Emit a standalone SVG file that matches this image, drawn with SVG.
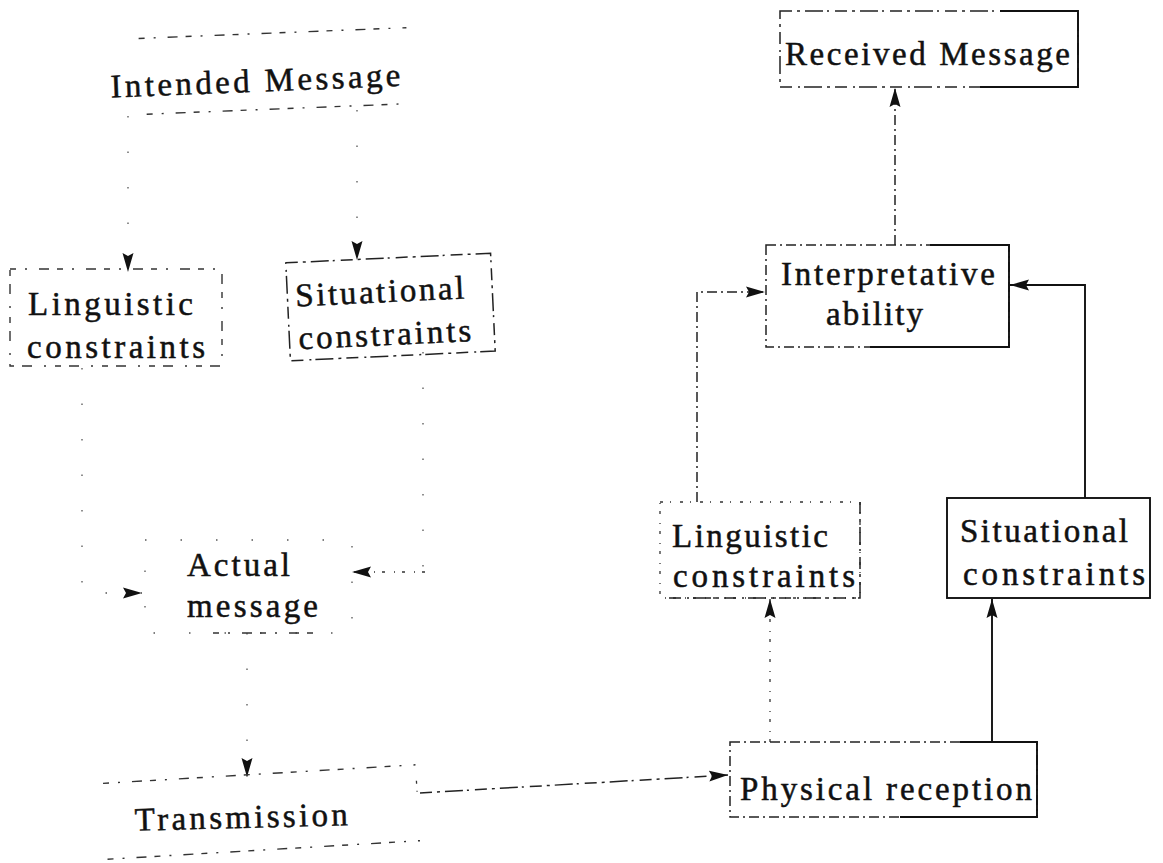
<svg xmlns="http://www.w3.org/2000/svg" width="1163" height="863" viewBox="0 0 1163 863">
<style>
  text { font-family: "Liberation Serif", "Times New Roman", serif; font-size: 33px; fill: #111; stroke: #111; stroke-width: 0.5; }
  .dash { fill: none; stroke: #222; stroke-width: 1.5; stroke-dasharray: 12 5 3 5 18 4 2 6; }
  .dashdot { fill: none; stroke: #222; stroke-width: 1.5; stroke-dasharray: 10 4 2 4; }
  .faint { fill: none; stroke: #333; stroke-width: 1.4; stroke-dasharray: 6 9 2 12 10 8; }
  .sparse { fill: none; stroke: #555; stroke-width: 1.3; stroke-dasharray: 1.5 34; }
  .dotted { fill: none; stroke: #333; stroke-width: 1.3; stroke-dasharray: 3 7 1 9; }
  .solid { fill: none; stroke: #111; stroke-width: 1.9; }
</style>
<defs>
  <marker id="ah" markerUnits="userSpaceOnUse" markerWidth="20" markerHeight="14" refX="19" refY="7" orient="auto">
    <path d="M0,1.5 L19,7 L0,12.5 L3,7 z" fill="#111"/>
  </marker>
</defs>
<rect x="0" y="0" width="1163" height="863" fill="#fff"/>

<g id="connectors">
  <path class="sparse" d="M128 116 V272" marker-end="url(#ah)"/>
  <path class="sparse" d="M357 110 V260" marker-end="url(#ah)"/>
  <path class="sparse" d="M82 368 V593 H142" marker-end="url(#ah)"/>
  <path class="sparse" d="M423 352 V572 H400"/>
  <path class="dotted" d="M425 572 H352" marker-end="url(#ah)"/>
  <path class="sparse" d="M247 633 V777" marker-end="url(#ah)"/>
  <path class="dash" d="M420 793 L728 775" marker-end="url(#ah)"/>
  <path class="dotted" d="M770 742 V599" marker-end="url(#ah)"/>
  <path class="solid" d="M992 742 V599" marker-end="url(#ah)"/>
  <path class="dashdot" d="M697 502 V292 H765" marker-end="url(#ah)"/>
  <path class="solid" d="M1085 498 V285 H1010" marker-end="url(#ah)"/>
  <path class="dashdot" d="M895 245 V88" marker-end="url(#ah)"/>
</g>

<g id="intended-message" transform="rotate(-2.3 275 70)">
  <line class="faint" x1="140" y1="33" x2="408" y2="33"/>
  <line class="faint" x1="145" y1="109" x2="408" y2="109"/>
  <text x="110" y="91" textLength="290" lengthAdjust="spacing">Intended Message</text>
</g>

<g id="linguistic-constraints-left">
  <rect class="faint" x="10" y="269" width="212" height="97"/>
  <text x="28" y="315" textLength="165" lengthAdjust="spacing">Linguistic</text>
  <text x="27" y="358" textLength="178" lengthAdjust="spacing">constraints</text>
</g>

<g id="situational-constraints-left" transform="rotate(-2.7 390 307)">
  <rect class="dash" x="288" y="258" width="205" height="98"/>
  <text x="296" y="302" textLength="169" lengthAdjust="spacing">Situational</text>
  <text x="297" y="345" textLength="173" lengthAdjust="spacing">constraints</text>
</g>

<g id="actual-message">
  <rect class="sparse" x="145" y="540" width="207" height="93"/>
  <line class="faint" x1="213" y1="633" x2="313" y2="633"/>
  <text x="187" y="576" textLength="103" lengthAdjust="spacing">Actual</text>
  <text x="187" y="617" textLength="131" lengthAdjust="spacing">message</text>
</g>

<g id="transmission">
  <g transform="rotate(-3.4 262 812)">
    <line class="faint" x1="105" y1="774" x2="418" y2="774"/>
    <line class="faint" x1="105" y1="850" x2="418" y2="850"/>
    <line class="dotted" x1="418" y1="790" x2="418" y2="806"/>
  </g>
  <text x="135" y="828" textLength="213" lengthAdjust="spacing" transform="rotate(-1.5 241 826)">Transmission</text>
</g>

<g id="received-message">
  <rect class="dash" x="780" y="11" width="298" height="76"/>
  <path class="solid" d="M1000 11 H1078 V87 H980"/>
  <text x="785" y="65" textLength="285" lengthAdjust="spacing">Received Message</text>
</g>

<g id="interpretative-ability">
  <rect class="dashdot" x="766" y="245" width="243" height="102"/>
  <path class="solid" d="M930 245 H1009 V347 H870"/>
  <text x="781" y="285" textLength="214" lengthAdjust="spacing">Interpretative</text>
  <text x="826" y="325" textLength="97" lengthAdjust="spacing">ability</text>
</g>

<g id="linguistic-constraints-right">
  <rect class="dotted" x="660" y="502" width="200" height="96"/>
  <path class="dash" d="M860 502 V598 H665"/>
  <text x="672" y="547" textLength="156" lengthAdjust="spacing">Linguistic</text>
  <text x="673" y="587" textLength="182" lengthAdjust="spacing">constraints</text>
</g>

<g id="situational-constraints-right">
  <rect class="solid" x="947" y="498" width="203" height="100"/>
  <text x="960" y="542" textLength="168" lengthAdjust="spacing">Situational</text>
  <text x="963" y="585" textLength="182" lengthAdjust="spacing">constraints</text>
</g>

<g id="physical-reception">
  <rect class="dashdot" x="730" y="742" width="307" height="75"/>
  <path class="solid" d="M960 742 H1037 V817 H900"/>
  <text x="740" y="800" textLength="292" lengthAdjust="spacing">Physical reception</text>
</g>
</svg>
